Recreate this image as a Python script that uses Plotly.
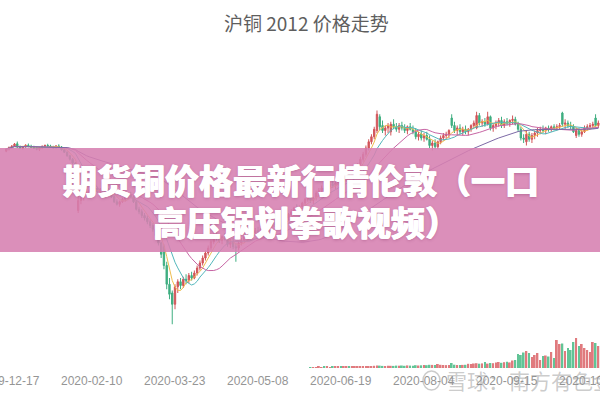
import plotly.graph_objects as go
import pandas as pd

# ---------------- data ----------------
opens = [
    49650,49820,49950,50060,50240,49980,49900,50000,50120,50040,
    49960,49880,49800,49900,50040,50100,50060,49960,49920,50060,
    49980,49760,49560,49280,49000,48700,44900,45700,45900,46200,
    46300,46500,46600,46700,46400,46600,46800,46600,46300,46000,
    45600,45400,45600,45800,45900,46200,46000,45600,45000,44800,
    44500,44300,44000,43700,43400,42900,42300,42000,40500,39000,
    38300,37400,38800,39200,38900,39400,39300,39700,39500,39900,
    40300,40700,41100,41500,41900,42400,42900,42700,42500,42800,
    42600,42200,42400,42000,41900,42300,42500,42800,43000,42900,
    43100,43300,43200,43400,43600,43500,43700,43900,43800,43600,
    43800,44000,44300,44600,44800,45100,45000,45200,45500,45800,
    46000,45700,45900,46300,46500,46700,46500,46800,47000,46900,
    47100,47300,47200,47400,47700,47600,48000,48300,48600,49000,
    49400,49900,50400,50800,51300,52400,51700,51300,51500,51200,
    51800,51600,51400,51700,51500,51300,51600,51400,51200,50800,
    51000,50700,50900,50600,50100,50300,50000,50400,50700,50900,
    51000,52300,51700,51300,51500,51200,51400,51200,51400,51700,
    51500,52500,51900,52000,51800,52400,51500,51700,51900,52100,
    51700,52000,51900,52100,52200,51800,51400,50700,50400,51000,
    50600,50900,51100,51300,51400,51300,51500,51400,51600,51500,
    51600,52700,51800,51900,51700,51600,50900,51300,51000,51200,
    51500,51600,51700,52300,51700,
]
highs = [
    49900,50010,50120,50300,50420,50100,50060,50200,50260,50160,
    50080,50000,49960,50100,50180,50240,50160,50080,50140,50200,
    50060,49860,49640,49360,49100,48780,46100,46100,46300,46500,
    46600,46800,46900,46800,46700,46900,46950,46700,46400,46100,
    45800,45700,45900,46100,46300,46400,46100,45700,45200,45000,
    44700,44500,44200,43900,43500,43000,42400,42200,40800,39500,
    38500,39000,39400,39500,39600,39800,39900,40000,40100,40500,
    40900,41300,41700,42100,42600,43100,43200,43000,42900,43100,
    42800,42600,42700,42300,42400,42700,42900,43100,43300,43200,
    43500,43600,43500,43800,43900,43800,44100,44200,44000,43900,
    44200,44400,44700,45000,45200,45400,45300,45600,45900,46200,
    46400,46000,46500,46700,46900,47000,46900,47200,47300,47200,
    47500,47600,47500,47800,48000,48100,48400,48700,49200,49600,
    50100,50600,51000,51600,52900,52600,52100,51700,51900,52000,
    52200,51900,51900,52000,51800,51700,51900,51700,51500,51200,
    51300,51100,51200,50900,50500,50600,50500,50900,51100,51200,
    51400,52600,52000,51700,51800,51600,51700,51500,51800,52100,
    52800,52700,52200,52300,52800,52500,51900,52100,52300,52400,
    52200,52300,52200,52500,52400,52000,51600,51000,51300,51200,
    51100,51300,51500,51600,51700,51600,51700,51700,51800,51800,
    51900,52800,52200,52100,52000,51800,51500,51500,51400,51700,
    51800,51900,52000,52600,52100,
]
lows = [
    49560,49700,49840,49980,49900,49820,49780,49920,49960,49880,
    49820,49720,49660,49840,49940,49980,49900,49840,49860,49920,
    49700,49500,49200,48900,48600,48300,44700,45400,45700,46000,
    46100,46300,46400,46300,46200,46500,46500,46200,45900,45500,
    45300,45200,45500,45600,45800,45900,45500,44900,44600,44300,
    44100,43800,43500,43200,42700,42100,41100,40200,38600,37800,
    35800,37000,38300,38600,38700,39000,39100,39300,39400,39700,
    40100,40500,40900,41300,41700,42200,42500,42300,42200,42500,
    42000,41900,41800,40800,41700,42100,42300,42600,42700,42600,
    42900,43000,42900,43200,43300,43200,43500,43600,43400,43300,
    43600,43800,44100,44400,44500,44800,44700,45000,45300,45600,
    45500,45400,45700,46000,46200,46300,46300,46600,46700,46600,
    46900,47000,46900,47200,47400,47500,47800,48100,48500,48800,
    49200,49700,50200,50600,51100,51300,51100,50900,51100,50900,
    51400,51200,51100,51300,51100,51000,51300,51000,50600,50500,
    50500,50400,50500,49900,49700,49800,49800,50200,50500,50600,
    50700,51500,51100,50900,51000,50900,51000,50900,51200,51500,
    51400,51700,51600,51600,51700,51300,51200,51400,51600,51500,
    51500,51700,51600,51800,51700,51200,50500,50300,50100,50400,
    50300,50600,50800,51000,51100,51000,51200,51200,51300,51300,
    51400,51600,51400,51500,51400,51100,50700,50800,50800,51100,
    51300,51400,51500,51600,51500,
]
closes = [
    49820,49950,50060,50220,49980,49900,50000,50120,50040,49960,
    49880,49800,49900,50040,50100,50060,49960,49920,50060,49980,
    49760,49560,49280,49000,48700,48420,45700,45900,46200,46300,
    46500,46600,46700,46400,46600,46800,46600,46300,46000,45600,
    45400,45600,45800,45900,46200,46000,45600,45000,44800,44500,
    44300,44000,43700,43400,42900,42300,41400,40500,39000,38200,
    37400,38800,39200,38900,39400,39300,39700,39500,39900,40300,
    40700,41100,41500,41900,42400,42900,42700,42500,42800,42600,
    42200,42400,42000,41900,42300,42500,42800,43000,42900,43100,
    43300,43200,43400,43600,43500,43700,43900,43800,43600,43800,
    44000,44300,44600,44800,45100,45000,45200,45500,45800,46000,
    45700,45900,46300,46500,46700,46500,46800,47000,46900,47100,
    47300,47200,47400,47700,47600,48000,48300,48600,49000,49400,
    49900,50400,50800,51400,52600,51600,51300,51500,51700,51800,
    51600,51400,51700,51500,51300,51600,51400,51200,50800,51000,
    50700,50900,50600,50100,50300,50000,50400,50700,50900,51000,
    51300,51700,51300,51500,51200,51400,51200,51400,51700,51900,
    52500,51900,52000,51800,52400,51500,51700,51900,52100,51700,
    52000,51900,52100,52200,51800,51400,50700,50600,51000,50600,
    50900,51100,51300,51400,51300,51500,51400,51600,51500,51600,
    51700,51800,51900,51700,51600,51200,51300,51000,51200,51500,
    51600,51700,51800,51700,51900,
]
# volume of the early, illiquid months is too small to see in the picture
volumes = [
    0,0,0,0,0,0,0,0,0,0,
    0,0,0,0,0,0,0,0,0,0,
    0,0,0,0,0,0,0,0,0,0,
    0,0,0,0,0,0,0,0,0,0,
    0,0,0,0,0,0,0,0,0,0,
    0,0,0,0,0,0,0,0,0,0,
    0,0,0,0,0,0,0,0,0,0,
    0,0,0,0,0,0,0,0,0,0,
    0,0,0,0,0,0,0,0,0,0,
    0,0,0,0,0,0,0,0,0,0,
    0,0,0,0,0,0,0,0,0,0,
    900,1000,850,1100,950,1200,1050,1000,1150,1300,
    1100,1250,1200,1400,1300,1350,1500,1450,1600,1700,
    1800,2000,1900,2200,2600,2400,2100,2000,2300,2200,
    2100,2400,2300,2500,2200,2600,2400,2300,2800,2500,
    2700,3000,2800,3200,3100,2900,4000,3200,3000,2900,
    3100,5000,3300,3000,2900,3100,3200,4200,4000,4500,
    4800,4300,4600,6000,4400,5000,4800,5500,6000,5200,
    5800,6200,5600,7500,8000,14000,13000,15500,17000,15000,
    11000,13000,15000,8000,12000,12500,11500,16000,10000,28000,
    24000,24500,17000,20000,18000,26000,30000,22000,24000,20000,
    18000,16000,26000,25000,22000,
]
tick_positions = [1, 31, 61, 91, 121, 151, 181, 211]
tick_labels = ["2019-12-17", "2020-02-10", "2020-03-23", "2020-05-08",
               "2020-06-19", "2020-08-04", "2020-09-15", "2020-10-28"]
ma_periods = [5, 10, 20, 60]
ma_colors = ["#f0bd4f", "#52b7bb", "#c765a4", "#7d6aa6"]

title_text = "沪铜 2012 价格走势"
banner_line1 = "期货铜价格最新行情伦敦（一口"
banner_line2 = "高压锅划拳歌视频）"
watermark = "雪球：南方有色金属"

# ---------------- figure ----------------
idx = list(range(len(closes)))
UP = "#d2555a"
DOWN = "#3fae80"
vol_colors = ["#e07a7e" if c >= o else "#62c496" for o, c in zip(opens, closes)]

fig = go.Figure()
fig.add_trace(go.Bar(x=idx, y=volumes, yaxis="y2", marker_color=vol_colors,
                     marker_line_width=0, hoverinfo="skip", showlegend=False))
fig.add_trace(go.Candlestick(
    x=idx, open=opens, high=highs, low=lows, close=closes,
    increasing=dict(line=dict(color=UP, width=1), fillcolor=UP),
    decreasing=dict(line=dict(color=DOWN, width=1), fillcolor=DOWN),
    whiskerwidth=0, hoverinfo="skip", showlegend=False))
cs = pd.Series(closes, dtype=float)
for n, col in zip(ma_periods, ma_colors):
    fig.add_trace(go.Scatter(x=idx, y=cs.rolling(n, min_periods=1).mean(),
                             mode="lines", line=dict(color=col, width=1),
                             hoverinfo="skip", showlegend=False))

T, B = 40, 30
PH = 400 - T - B
def py(pix):
    return (400 - B - pix) / PH

annotations = [
    dict(text=title_text, xref="paper", yref="paper", x=306/600, y=py(22),
         showarrow=False, xanchor="center", yanchor="middle",
         font=dict(family="Noto Sans CJK SC", size=19, color="#5e5e5e")),
]
for pos, lab in zip(tick_positions, tick_labels):
    annotations.append(dict(text=lab, xref="x", yref="paper", x=pos, y=py(381),
                            showarrow=False, xanchor="center", yanchor="middle",
                            font=dict(family="Liberation Sans, Arial", size=12,
                                      color="#959595")))
annotations += [
    dict(text=banner_line1, xref="paper", yref="paper", x=301/600, y=py(180),
         showarrow=False, xanchor="center", yanchor="middle",
         font=dict(family="Noto Sans CJK SC", size=34, color="white", weight=900,
                   shadow="0.5px 0 0 #fff, -0.5px 0 0 #fff, 0 1px 3px rgba(120,40,90,0.35)")),
    dict(text=banner_line2, xref="paper", yref="paper", x=306/600, y=py(221),
         showarrow=False, xanchor="center", yanchor="middle",
         font=dict(family="Noto Sans CJK SC", size=34, color="white", weight=900,
                   shadow="0.5px 0 0 #fff, -0.5px 0 0 #fff, 0 1px 3px rgba(120,40,90,0.35)")),
    dict(text=watermark, xref="paper", yref="paper", x=444/600, y=py(380),
         showarrow=False, xanchor="left", yanchor="middle",
         font=dict(family="Noto Sans CJK SC", size=21, color="rgba(140,140,140,0.45)")),
]

fig.update_layout(
    width=600, height=400,
    margin=dict(l=0, r=0, t=T, b=B),
    paper_bgcolor="white", plot_bgcolor="white",
    bargap=0.35,
    xaxis=dict(range=[-2.25, 214.6], showgrid=False, zeroline=False,
               showline=False, ticks="", showticklabels=False,
               rangeslider=dict(visible=False)),
    yaxis=dict(range=[32140, 58540], visible=False),
    yaxis2=dict(range=[-2000, 328000], overlaying="y", visible=False),
    shapes=[
        dict(type="rect", xref="paper", yref="paper", x0=0, x1=1,
             y0=py(252), y1=py(148), fillcolor="rgba(214,128,177,0.88)",
             line=dict(width=0), layer="above"),
        dict(type="circle", xref="paper", yref="paper", x0=423/600, x1=440/600,
             y0=py(390), y1=py(371), line=dict(color="rgba(140,140,140,0.45)", width=1.5),
             layer="above"),
    ],
    annotations=annotations,
)

fig.write_html("out.html", config={"displayModeBar": False},
               post_script="document.body.style.margin='0';document.body.style.overflow='hidden';")
